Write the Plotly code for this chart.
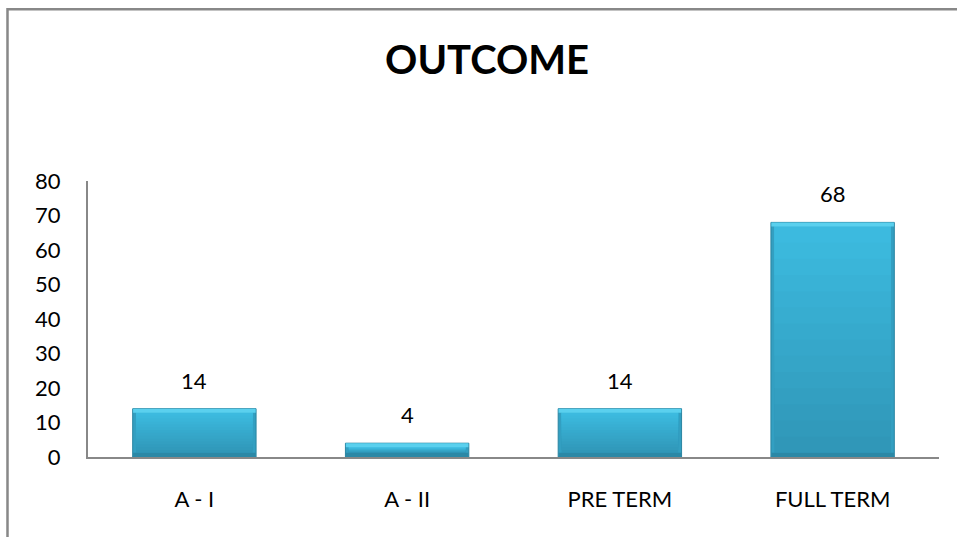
import plotly.graph_objects as go

# Outcome counts
categories = ["A - I", "A - II", "PRE TERM", "FULL TERM"]
values = [14, 4, 14, 68]
y_ticks = [0, 10, 20, 30, 40, 50, 60, 70, 80]

FONT = "Lato"
BAR_W = 0.58
SIDE = 0.016          # side bevel width (category units)
EDGE = "#2a85a2"
SIDE_FILL = "#339fc1"
HIGHLIGHT = "#5ad0ee"
SHADE = "#2b88a6"
FACE_TOP = (61, 189, 226)
FACE_BOTTOM = (48, 151, 184)
N_STEPS = 14

# bevel band thickness per bar, in data units
band = [min(1.2, 0.3 * v) for v in values]


def mix(t):
    r, g, b = (round(a + (c - a) * t) for a, c in zip(FACE_BOTTOM, FACE_TOP))
    return f"rgb({r},{g},{b})"


fig = go.Figure()

# outer bar body (gives the side bevels and outline)
fig.add_trace(go.Bar(
    x=categories, y=values, width=BAR_W,
    marker=dict(color=SIDE_FILL, line=dict(color=EDGE, width=1)),
    hoverinfo="x+y", showlegend=False,
))

# front face: vertical gradient built from overlaid layers
for k in range(N_STEPS):
    t = k / N_STEPS
    bases = [b + (v - 2 * b) * t for v, b in zip(values, band)]
    tops = [v - b for v, b in zip(values, band)]
    fig.add_trace(go.Bar(
        x=categories, y=[tp - bs for tp, bs in zip(tops, bases)], base=bases,
        width=BAR_W - 2 * SIDE,
        marker=dict(color=mix(t), line=dict(width=0)),
        hoverinfo="skip", showlegend=False,
    ))

# lower shaded bevel
fig.add_trace(go.Bar(
    x=categories, y=band, base=[0] * len(values), width=BAR_W - 0.004,
    marker=dict(color=SHADE, line=dict(width=0)),
    hoverinfo="skip", showlegend=False,
))
# upper highlight bevel
fig.add_trace(go.Bar(
    x=categories, y=band, base=[v - b for v, b in zip(values, band)], width=BAR_W - 0.004,
    marker=dict(color=HIGHLIGHT, line=dict(width=0)),
    hoverinfo="skip", showlegend=False,
))

# value labels above bars
for c, v in zip(categories, values):
    fig.add_annotation(
        x=c, y=v, text=str(v), showarrow=False,
        yanchor="bottom", yshift=13,
        font=dict(family=FONT, size=22, color="#000000"),
    )

# chart frame
fig.add_shape(
    type="rect", xref="paper", yref="paper",
    x0=-0.0946, y0=-0.5, x1=1.2, y1=1.622,
    line=dict(color="#888888", width=2.5), fillcolor="rgba(0,0,0,0)",
    layer="below",
)

fig.update_layout(
    width=957, height=537,
    margin=dict(l=88, r=18, t=181, b=80),
    paper_bgcolor="white", plot_bgcolor="white",
    barmode="overlay",
    title=dict(
        text="<b>OUTCOME</b>", x=0.509, xref="container", xanchor="center",
        y=0.888, yref="container", yanchor="middle",
        font=dict(family=FONT, size=40, color="#000000"),
    ),
    font=dict(family=FONT, size=22, color="#000000"),
)
fig.update_xaxes(
    showline=True, linecolor="#888888", linewidth=2,
    ticks="", ticklabelstandoff=22, showgrid=False,
    tickfont=dict(family=FONT, size=22, color="#000000"),
)
fig.update_yaxes(
    range=[0, 80], tickvals=y_ticks, showline=True, linecolor="#888888", linewidth=2,
    ticks="", ticklabelstandoff=21, showgrid=False, zeroline=False,
    tickfont=dict(family=FONT, size=22, color="#000000"),
)

fig.write_html("out.html")
